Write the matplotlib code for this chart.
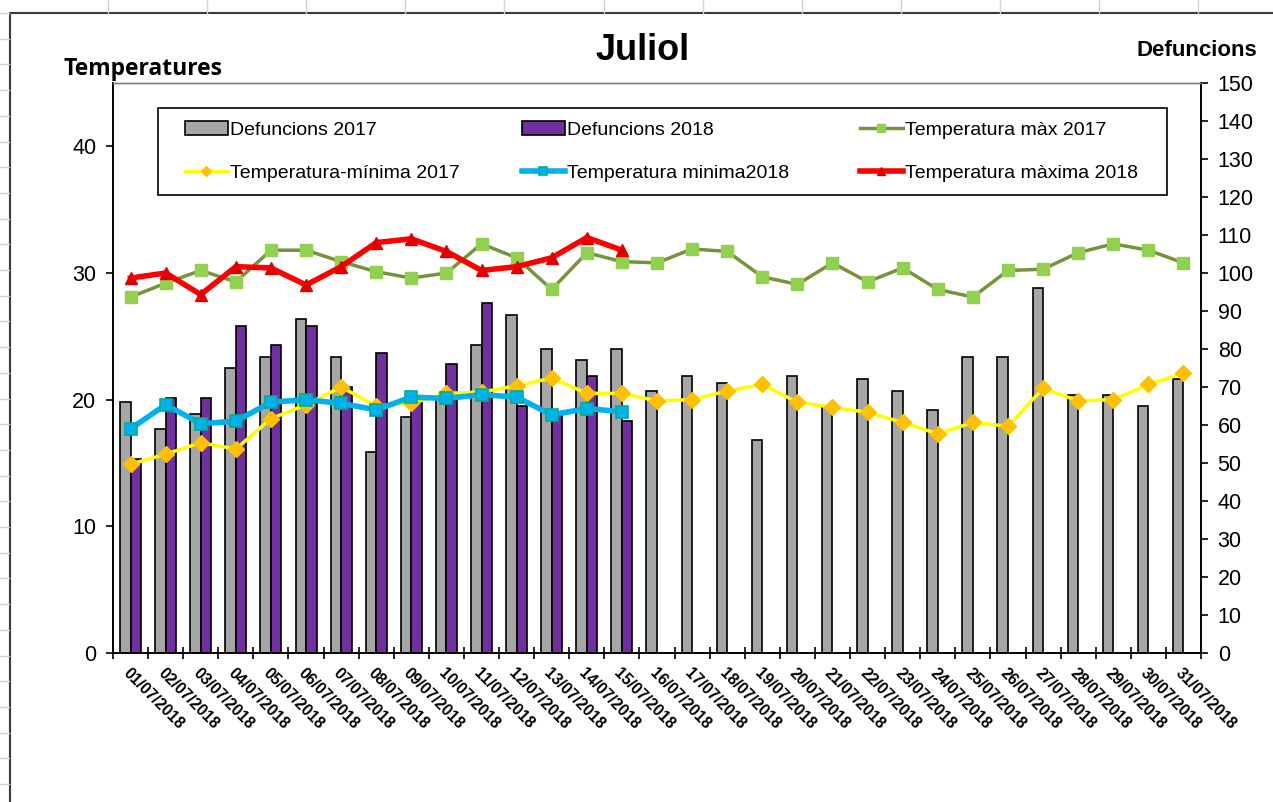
import matplotlib
matplotlib.use("Agg")
import matplotlib.pyplot as plt
from matplotlib.lines import Line2D
from matplotlib.patches import Rectangle
import numpy as np

plt.rcParams['font.family'] = ['Liberation Sans', 'DejaVu Sans']

# --- data ---
dies = ['%02d/07/2018' % d for d in range(1, 32)]

def_2017 = [66, 59, 63, 75, 78, 88, 78, 53, 62, 67, 81, 89, 80, 77, 80, 69,
            73, 71, 56, 73, 65, 72, 69, 64, 78, 78, 96, 68, 68, 65, 72]
def_2018 = [51, 67, 67, 86, 81, 86, 70, 79, 66, 76, 92, 65, 63, 73, 61]

tmax_2017 = [28.1, 29.2, 30.2, 29.3, 31.8, 31.8, 30.9, 30.1, 29.6, 30.0, 32.3,
             31.2, 28.7, 31.6, 30.9, 30.8, 31.9, 31.7, 29.7, 29.1, 30.8, 29.3,
             30.4, 28.7, 28.1, 30.2, 30.3, 31.6, 32.3, 31.8, 30.8]
tmin_2017 = [14.9, 15.7, 16.6, 16.1, 18.5, 19.6, 21.0, 19.5, 19.7, 20.5, 20.6,
             21.1, 21.7, 20.5, 20.5, 19.9, 20.0, 20.7, 21.2, 19.8, 19.4, 19.0,
             18.2, 17.3, 18.2, 17.9, 20.9, 19.9, 20.0, 21.2, 22.1]
tmin_2018 = [17.7, 19.6, 18.1, 18.3, 19.8, 20.0, 19.7, 19.2, 20.2, 20.1, 20.4,
             20.2, 18.8, 19.3, 19.05]
tmax_2018 = [29.6, 30.0, 28.3, 30.5, 30.4, 29.05, 30.5, 32.4, 32.7, 31.7, 30.2,
             30.5, 31.2, 32.8, 31.8]

W, H = 1273, 802
fig = plt.figure(figsize=(W / 100, H / 100), dpi=100)
fig.patch.set_facecolor('white')

# excel sheet grid around the chart
grid_c = '#D4D4D4'
for xp in np.arange(108, W, 99.1):
    fig.add_artist(Line2D([xp / W, xp / W], [1, 1 - 13 / H], transform=fig.transFigure, color=grid_c, lw=1))
for yp in np.arange(13, H, 25.7):
    fig.add_artist(Line2D([0, 9 / W], [1 - yp / H, 1 - yp / H], transform=fig.transFigure, color=grid_c, lw=1))
# chart area border
fig.add_artist(Rectangle((9.5 / W, -0.1), 2, 1.1 - 13 / H, transform=fig.transFigure,
                         fill=False, ec='#3a3a3a', lw=1.5))

left, right, top, bottom = 113, 1201, 83, 653
ax = fig.add_axes([left / W, 1 - bottom / H, (right - left) / W, (bottom - top) / H])
ax2 = ax.twinx()

x = np.arange(len(dies))
x18 = np.arange(len(def_2018))
bw = 0.3

# bars (deaths, right axis)
b1 = ax.bar(x - bw / 2, def_2017, bw, color='#A6A6A6', edgecolor='black', lw=1.2, label='Defuncions 2017')
b2 = ax.bar(x18 + bw / 2, def_2018, bw, color='#7030A0', edgecolor='black', lw=1.2, label='Defuncions 2018')
ax.set_ylim(0, 150)
ax.set_xlim(-0.5, len(dies) - 0.5)
ax.yaxis.tick_right()
ax.set_yticks(np.arange(0, 151, 10))

# lines (temperatures, left axis)
l1, = ax2.plot(x, tmax_2017, color='#77933C', lw=2.5, marker='s', ms=8,
               mfc='#92D050', mec='#92D050', label='Temperatura màx 2017')
l2, = ax2.plot(x, tmin_2017, color='#FFFF00', lw=2.5, marker='D', ms=8,
               mfc='#FFC000', mec='#FFC000', label='Temperatura-mínima 2017')
l3, = ax2.plot(x18, tmin_2018, color='#00B0F0', lw=4, marker='s', ms=8,
               mfc='#00B0F0', mec='#00B08A', mew=1.2, label='Temperatura minima2018')
l4, = ax2.plot(x18, tmax_2018, color='#FF0000', lw=4, marker='^', ms=9,
               mfc='#E00000', mec='#E00000', label='Temperatura màxima 2018')
ax2.set_ylim(0, 45)
ax2.yaxis.tick_left()
ax2.set_yticks([0, 10, 20, 30, 40])

# ticks
ax.set_xticks(x)
ax.set_xticklabels(dies, rotation=-45, ha='left', va='top', rotation_mode='anchor',
                   fontsize=11.3, fontweight='bold')
ax.tick_params(axis='x', length=0, pad=9)
ax.set_xticks(np.arange(-0.5, len(dies)), minor=True)
ax.tick_params(axis='x', which='minor', direction='inout', length=8, width=1.2)
ax.tick_params(axis='y', direction='out', length=5, width=1.2, labelsize=15.5, pad=7)
ax2.tick_params(axis='y', direction='out', length=5, width=1.2, labelsize=15.5, pad=7)

for a in (ax, ax2):
    a.spines['top'].set_color('#7f7f7f')
    a.spines['top'].set_linewidth(1)
    for s in ('left', 'right', 'bottom'):
        a.spines[s].set_linewidth(1.2)

# legend: frame drawn by hand, one legend per column
fig.add_artist(Rectangle((158 / W, 1 - 195 / H), (1167 - 158) / W, (195 - 108) / H,
                         transform=fig.transFigure, fill=False, ec='black', lw=1.2))
columns = [(b1, l2), (b2, l3), (l1, l4)]
col_x = [185, 522, 860]
for hs, cx in zip(columns, col_x):
    lg = fig.legend(handles=list(hs), labels=[h.get_label() for h in hs], ncol=1,
                    loc='upper left', bbox_to_anchor=(cx / W, 1 - 121 / H),
                    fontsize=14, frameon=False, handlelength=2.2, handletextpad=0.1,
                    labelspacing=1.3, borderpad=0, borderaxespad=0, markerscale=0.7)

# titles
fig.text(643 / W, 1 - 50 / H, 'Juliol', ha='center', va='center', fontsize=26, fontweight='bold')
fig.text(63 / W, 1 - 69 / H, 'Temperatures', ha='left', va='center', fontsize=16.5,
         fontweight='bold', family=['Open Sans', 'DejaVu Sans'])
fig.text(1257 / W, 1 - 50 / H, 'Defuncions', ha='right', va='center', fontsize=16, fontweight='bold')

fig.savefig('out.png', dpi=100)
